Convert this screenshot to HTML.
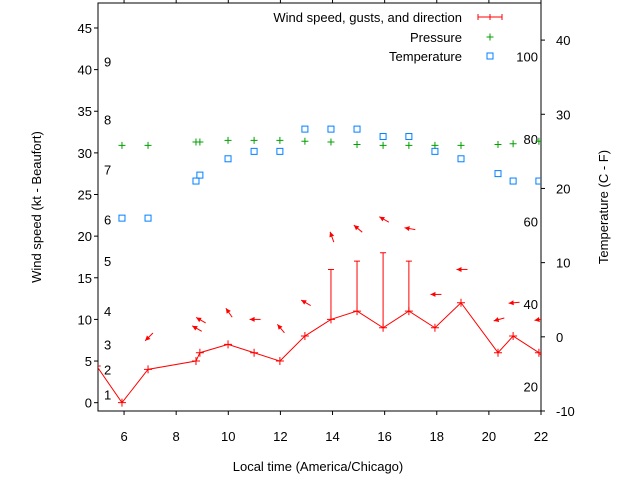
<!DOCTYPE html>
<html><head><meta charset="utf-8"><style>
body{margin:0;background:#fff}
svg text{font-family:"Liberation Sans",sans-serif;font-size:13px;fill:#000}
</style></head><body>
<svg width="640" height="480" xmlns="http://www.w3.org/2000/svg">
<defs><clipPath id="clip"><rect x="98" y="3" width="443" height="408"/></clipPath></defs>
<g id="root"></g>
</svg>
<script>
const windTimes=[4.95,5.92,6.92,8.76,8.91,9.99,10.99,11.98,12.94,13.94,14.94,15.94,16.93,17.93,18.93,20.35,20.93,21.92,22.1];
const windSpeed=[4.4,0,4,5,6,7,6,5,8,10,11,9,11,9,12,6,8,6,5.8];
const gustTimes=[13.94,14.94,15.94,16.93];
const gustSpeed=[16,17,18,17];
const arrowTimes=[6.92,8.76,8.91,9.99,10.99,11.98,12.94,13.94,14.94,15.94,16.93,17.93,18.93,20.35,20.93,21.92];
const arrowLevel=[7.9,8.9,9.9,10.8,10,8.9,12,19.9,20.9,22,20.9,13,16,10,12,10];
const arrowAngle=[225,150,150,125,180,130,150,110,140,150,170,180,180,195,185,190];
const presTimes=[5.92,6.92,8.76,8.91,9.99,10.99,11.98,12.94,13.94,14.94,15.94,16.93,17.93,18.93,20.35,20.93,21.92];
const presVal=[30.9,30.9,31.3,31.3,31.5,31.5,31.5,31.4,31.3,31.0,30.9,30.9,30.9,30.9,31.0,31.1,31.4];
const tempTimes=[5.92,6.92,8.76,8.91,9.99,10.99,11.98,12.94,13.94,14.94,15.94,16.93,17.93,18.93,20.35,20.93,21.92];
const tempC=[16,16,21,21.8,24,25,25,28,28,28,27,27,25,24,22,21,21];
const xTicks=[6,8,10,12,14,16,18,20,22];
const yTicks=[0,5,10,15,20,25,30,35,40,45];
const y2Ticks=[-10,0,10,20,30,40];
const beaufortKt=[1,4,7,11,17,22,28,34,41];
const beaufortLbl=["1","2","3","4","5","6","7","8","9"];
const fTicks=[20,40,60,80,100];

const L=98,R=541,T=3,B=411;
const X=t=>L+(t-5)*(R-L)/17;
const Y=v=>T+(48-v)*(B-T)/49;
const Y2=c=>T+(45-c)*(B-T)/55;
const NS="http://www.w3.org/2000/svg";
const root=document.getElementById('root');
function el(tag,attrs,parent){const e=document.createElementNS(NS,tag);for(const k in attrs)e.setAttribute(k,attrs[k]);(parent||root).appendChild(e);return e;}
function txt(x,y,s,anchor,parent){const e=el('text',{x:x,y:y,'text-anchor':anchor||'start'},parent);e.textContent=s;return e;}

const axes=el('g',{});


el('rect',{x:L,y:T,width:R-L,height:B-T,fill:'none',stroke:'#000','stroke-width':1},axes);
xTicks.forEach(t=>{const x=X(t);
 el('line',{x1:x,x2:x,y1:B,y2:B+4,stroke:'#000'},axes);
 el('line',{x1:x,x2:x,y1:T,y2:T-4,stroke:'#000'},axes);
 const e=txt(x,441,String(t),'middle',axes);
 
 });
yTicks.forEach(v=>{const y=Y(v);
 el('line',{x1:L-4,x2:L,y1:y,y2:y,stroke:'#000'},axes);
 const e=txt(92,y+5,String(v),'end',axes);
 
 });
y2Ticks.forEach(c=>{const y=Y2(c);
 el('line',{x1:R,x2:R+4,y1:y,y2:y,stroke:'#000'},axes);
 const e=txt(556,y+5,String(c),'start',axes);
 
 });
beaufortKt.forEach((k,i)=>{const e=txt(104,Y(k)+5,beaufortLbl[i],'start',axes);
 
 });
fTicks.forEach(f=>{const e=txt(538,Y2((f-32)*5/9)+5,String(f),'end',axes);
 
 });
let t1=txt(318,471,'Local time (America/Chicago)','middle',axes);


let t2=txt(0,0,'Wind speed (kt - Beaufort)','middle',axes);
t2.setAttribute('transform','translate(41,207) rotate(-90)');


let t3=txt(0,0,'Temperature (C - F)','middle',axes);
t3.setAttribute('transform','translate(608,207) rotate(-90)');



const plot=el('g',{'clip-path':'url(#clip)'});


const red='#ff0000';
const wl=el('polyline',{points:windTimes.map((t,i)=>X(t)+','+Y(windSpeed[i])).join(' '),fill:'none',stroke:red,'stroke-width':1},plot);


windTimes.forEach((t,i)=>{const x=X(t),y=Y(windSpeed[i]);
 const g=el('path',{d:`M${x-4},${y}h8M${x},${y-4}v8`,stroke:red,fill:'none'},plot);
 
 });
gustTimes.forEach((t,i)=>{const x=X(t);const j=windTimes.indexOf(t);
 const g=el('path',{d:`M${x},${Y(windSpeed[j])}V${Y(gustSpeed[i])}M${x-3},${Y(gustSpeed[i])}h6`,stroke:red,fill:'none'},plot);
 
 });
arrowTimes.forEach((t,i)=>{const cx=X(t)+1,cy=Y(arrowLevel[i]);const a=arrowAngle[i]*Math.PI/180;
 const dx=Math.cos(a),dy=-Math.sin(a),len=11;
 const hx=cx+dx*len/2,hy=cy+dy*len/2,tx=cx-dx*len/2,ty=cy-dy*len/2;
 const px=-dy,py=dx;
 const g=el('g',{},plot);
 
 
 el('line',{x1:tx,y1:ty,x2:hx,y2:hy,stroke:red},g);
 el('polygon',{points:`${hx},${hy} ${hx-dx*5+px*2.5},${hy-dy*5+py*2.5} ${hx-dx*5-px*2.5},${hy-dy*5-py*2.5}`,fill:red},g);});
presTimes.forEach((t,i)=>{const x=X(t),y=Y(presVal[i]);
 const g=el('path',{d:`M${x-3.5},${y}h7M${x},${y-3.5}v7`,stroke:'#00a000',fill:'none'},plot);
 
 });
tempTimes.forEach((t,i)=>{const x=X(t),y=Y2(tempC[i]);
 const g=el('rect',{x:x-3,y:y-3,width:6,height:6,fill:'none',stroke:'#0080ff'},plot);
 
 });

const lg=el('g',{});


txt(462,22,'Wind speed, gusts, and direction','end',lg);
el('path',{d:'M478,17h24M478,14v6M502,14v6M490,14v6',stroke:red,fill:'none'},lg);
txt(462,42,'Pressure','end',lg);
el('path',{d:'M486.5,37h7M490,33.5v7',stroke:'#00a000',fill:'none'},lg);
txt(462,61,'Temperature','end',lg);
el('rect',{x:487,y:53,width:6,height:6,fill:'none',stroke:'#0080ff'},lg);
</script>
</body></html>
